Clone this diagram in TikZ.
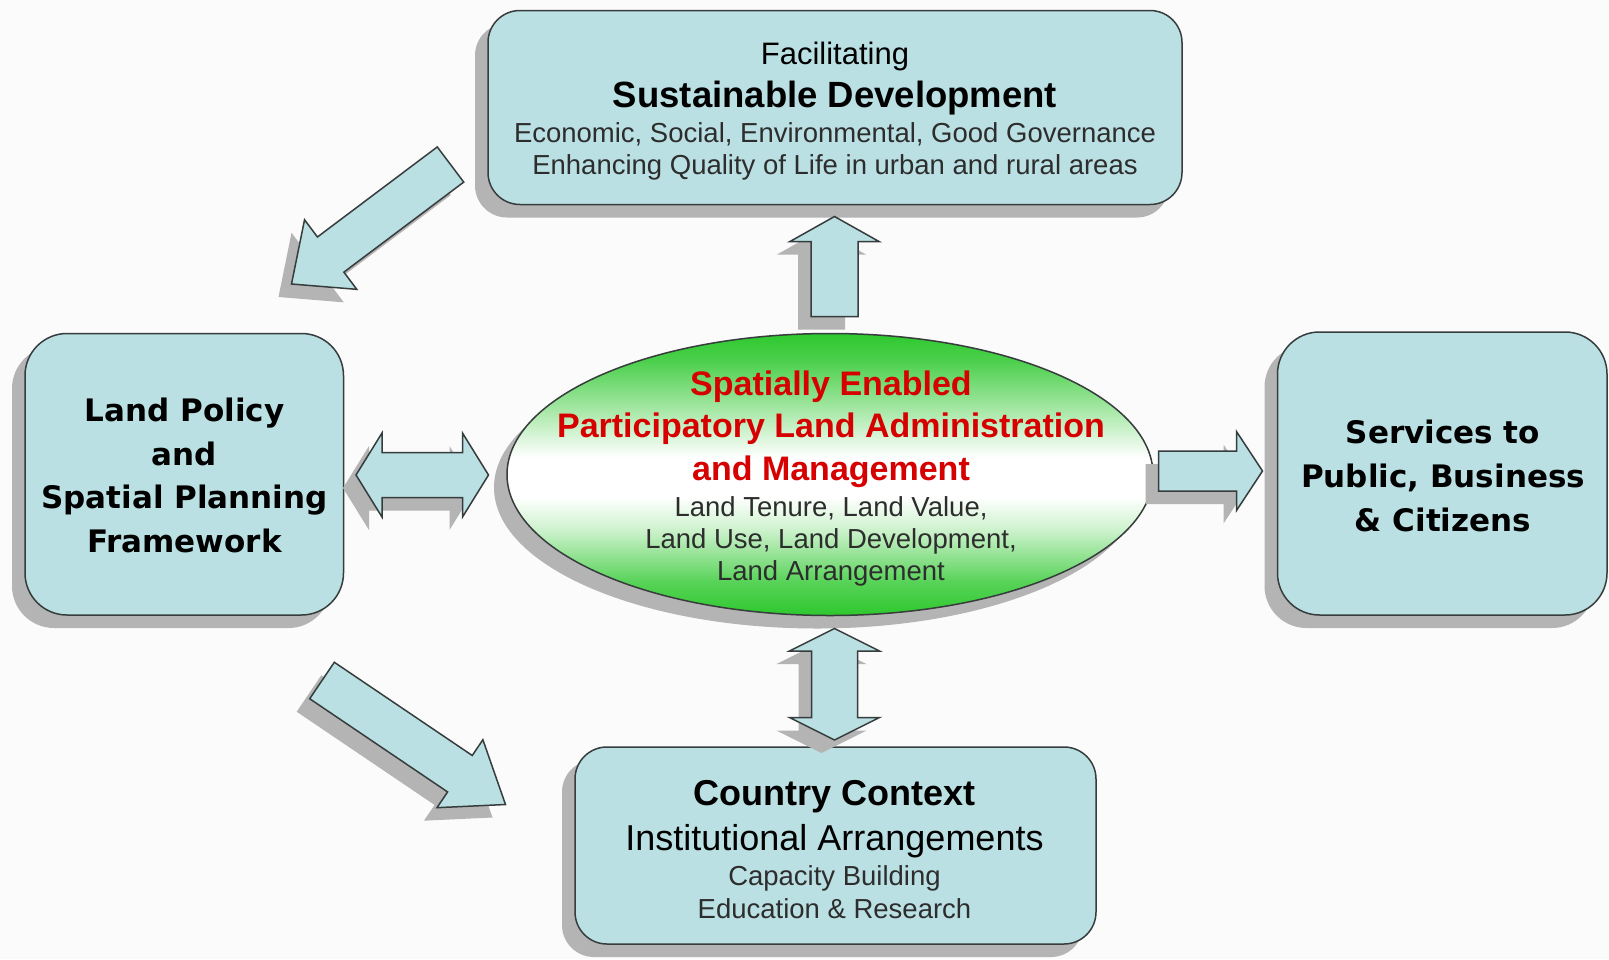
\documentclass[tikz,border=0pt]{standalone}
\usepackage{fontspec}
\setmainfont{Liberation Sans}
\newfontfamily\dvsans{DejaVu Sans}
\usetikzlibrary{calc,shadows,shapes.geometric}
\definecolor{bgc}{RGB}{250,251,250}
\definecolor{boxfill}{RGB}{186,224,227}
\definecolor{edgec}{RGB}{55,60,60}
\definecolor{shadowc}{RGB}{180,180,180}
\definecolor{ellgreen}{RGB}{46,200,46}
\definecolor{redtxt}{RGB}{214,0,0}
\definecolor{subtxt}{RGB}{45,45,45}
\pgfdeclareverticalshading{ellshade}{100bp}{color(0bp)=(ellgreen); color(25bp)=(ellgreen); color(31bp)=(ellgreen!80!white); color(40bp)=(ellgreen!25!white); color(46bp)=(white); color(53bp)=(white); color(62bp)=(ellgreen!45!white); color(70bp)=(ellgreen!85!white); color(75bp)=(ellgreen); color(100bp)=(ellgreen)}
\tikzset{
  shadowed/.style={drop shadow={shadow xshift=-13pt, shadow yshift=-13pt, fill=shadowc, opacity=1}},
  panel/.style={draw=edgec, line width=1.5pt, fill=boxfill, shadowed, outer sep=0pt, inner sep=0pt},
  blockarrow/.style={draw=edgec, line width=1.5pt, fill=boxfill, line join=miter, shadowed},
  txt/.style={anchor=base, inner sep=0pt, outer sep=0pt},
}
\newcommand{\sglarrow}[5]{%
  \path ($(#2)!#5!(#1)$) coordinate (hb);
  \path[blockarrow] ($(#1)!#3!90:(#2)$) -- ($(hb)!#3!-90:(#1)$) -- ($(hb)!#4!-90:(#1)$) -- (#2) -- ($(hb)!#4!90:(#1)$) -- ($(hb)!#3!90:(#1)$) -- ($(#1)!#3!-90:(#2)$) -- cycle;
}
\newcommand{\dblarrow}[5]{%
  \path ($(#1)!#5!(#2)$) coordinate (hba) ($(#2)!#5!(#1)$) coordinate (hbb);
  \path[blockarrow] (#1) -- ($(hba)!#4!90:(#2)$) -- ($(hba)!#3!90:(#2)$) -- ($(hbb)!#3!-90:(#1)$) -- ($(hbb)!#4!-90:(#1)$) -- (#2) -- ($(hbb)!#4!90:(#1)$) -- ($(hbb)!#3!90:(#1)$) -- ($(hba)!#3!-90:(#2)$) -- ($(hba)!#4!-90:(#2)$) -- cycle;
}
\begin{document}
\begin{tikzpicture}[x=1pt,y=-1pt]
\fill[bgc] (0,0) rectangle (1609,959);
\useasboundingbox (0,0) rectangle (1609,959);

% boxes
\node[panel, rounded corners=32pt, minimum width=694pt, minimum height=194pt] (sd) at (835,107.5) {};
\node[panel, rounded corners=42pt, minimum width=318.5pt, minimum height=281.5pt] (lp) at (184.25,474.25) {};
\node[panel, rounded corners=42pt, minimum width=329.5pt, minimum height=283pt] (sv) at (1442.25,473.5) {};
\node[panel, rounded corners=32pt, minimum width=521pt, minimum height=197pt] (cc) at (835.5,845.5) {};
\node[ellipse, draw=edgec, line width=1.5pt, shading=ellshade, shadowed, inner sep=0pt, outer sep=0pt, minimum width=646pt, minimum height=282pt] (ell) at (830,474.5) {};

% arrow end points
\coordinate (upA) at (834.5,316.5);
\coordinate (upB) at (834.5,216.5);
\coordinate (vdA) at (834.5,628.5);
\coordinate (vdB) at (834.5,740);
\coordinate (hdA) at (356,475);
\coordinate (hdB) at (488.5,475);
\coordinate (rtA) at (1158.5,471);
\coordinate (rtB) at (1262.5,471);
\coordinate (dtA) at (450.5,164.5);
\coordinate (dtB) at (291.5,284);
\coordinate (dbA) at (322,680.5);
\coordinate (dbB) at (505.5,804.5);

\sglarrow{upA}{upB}{23.5pt}{44.5pt}{25pt}
\dblarrow{vdA}{vdB}{23pt}{45pt}{22.5pt}
\dblarrow{hdA}{hdB}{22.5pt}{42pt}{26pt}
\sglarrow{rtA}{rtB}{20pt}{39.5pt}{26pt}
\sglarrow{dtA}{dtB}{22pt}{43.5pt}{49pt}
\sglarrow{dbA}{dbB}{22pt}{41pt}{55pt}

% top box text
\node[txt] (sd1) at (835,64) {\fontsize{31}{36}\selectfont Facilitating};
\node[txt] (sd2) at (835,107) {\fontsize{36.5}{40}\selectfont\bfseries Sustainable Development};
\node[txt, text=subtxt] (sd3) at (835,142) {\fontsize{27.5}{32}\selectfont Economic, Social, Environmental, Good Governance};
\node[txt, text=subtxt] (sd4) at (835,174.5) {\fontsize{27.5}{32}\selectfont Enhancing Quality of Life in urban and rural areas};

% left box text
\node[txt] (lp1) at (184.5,421.5) {\dvsans\bfseries\fontsize{31}{36}\selectfont Land Policy};
\node[txt] (lp2) at (184.5,465) {\dvsans\bfseries\fontsize{31}{36}\selectfont and};
\node[txt] (lp3) at (184.5,508.5) {\dvsans\bfseries\fontsize{31}{36}\selectfont Spatial Planning};
\node[txt] (lp4) at (184.5,552) {\dvsans\bfseries\fontsize{31}{36}\selectfont Framework};

% right box text
\node[txt] (sv1) at (1443,443.5) {\dvsans\bfseries\fontsize{31}{36}\selectfont Services to};
\node[txt] (sv2) at (1443,487) {\dvsans\bfseries\fontsize{31}{36}\selectfont Public, Business};
\node[txt] (sv3) at (1443,531.5) {\dvsans\bfseries\fontsize{31}{36}\selectfont \& Citizens};

% ellipse text
\node[txt, text=redtxt] (el1) at (831,395.5) {\fontsize{34}{38}\selectfont\bfseries Spatially Enabled};
\node[txt, text=redtxt] (el2) at (831,437) {\fontsize{34}{38}\selectfont\bfseries Participatory Land Administration};
\node[txt, text=redtxt] (el3) at (831,480) {\fontsize{34}{38}\selectfont\bfseries and Management};
\node[txt, text=subtxt] (el4) at (831,516) {\fontsize{27.5}{32}\selectfont Land Tenure, Land Value,};
\node[txt, text=subtxt] (el5) at (831,548.5) {\fontsize{27.5}{32}\selectfont Land Use, Land Development,};
\node[txt, text=subtxt] (el6) at (831,580.5) {\fontsize{27.5}{32}\selectfont Land Arrangement};

% bottom box text
\node[txt] (cc1) at (834.5,805) {\fontsize{36}{40}\selectfont\bfseries Country Context};
\node[txt] (cc2) at (834.5,850) {\fontsize{36}{40}\selectfont Institutional Arrangements};
\node[txt, text=subtxt] (cc3) at (834.5,885) {\fontsize{27.5}{32}\selectfont Capacity Building};
\node[txt, text=subtxt] (cc4) at (834.5,918) {\fontsize{27.5}{32}\selectfont Education \& Research};
\end{tikzpicture}
\end{document}
